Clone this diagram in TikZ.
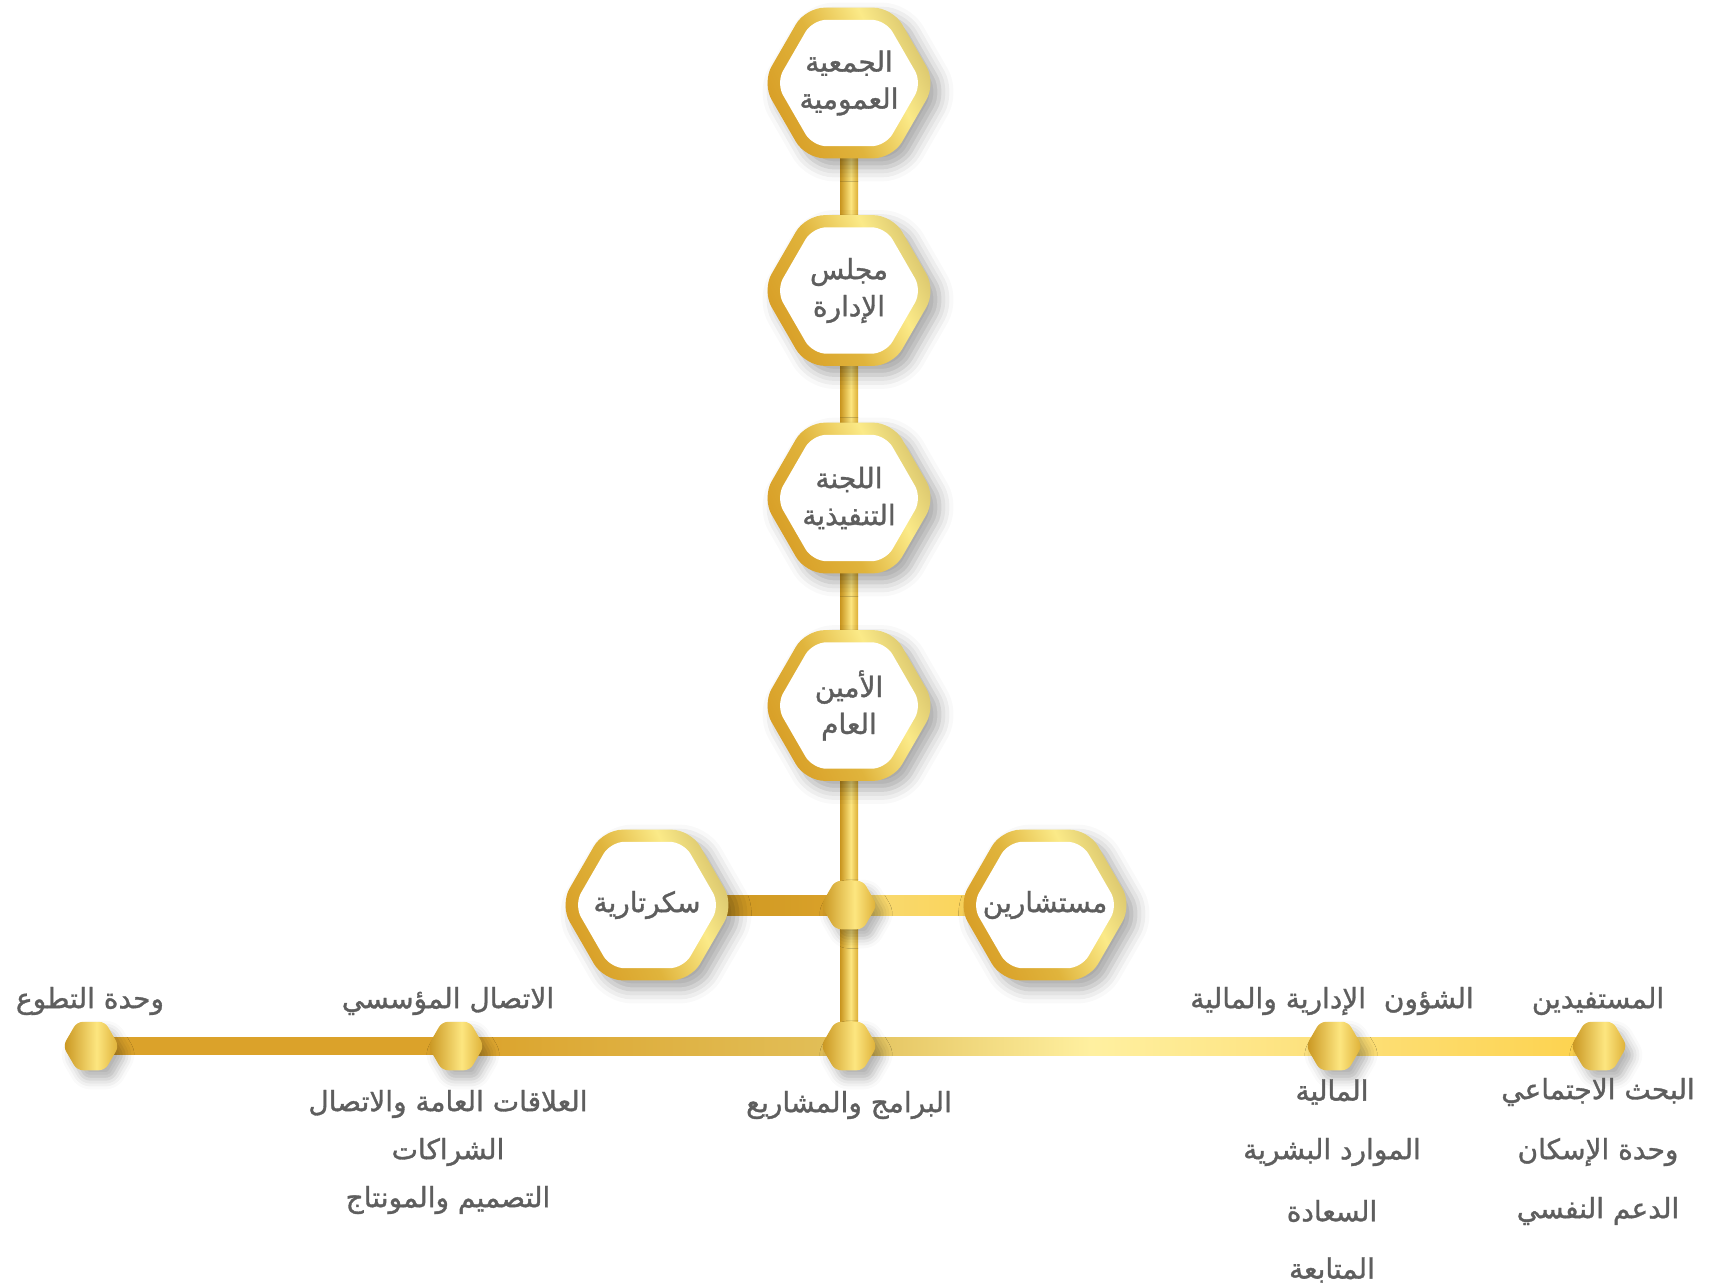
\documentclass[tikz,border=0pt]{standalone}
\usepackage{fontspec}
\newfontfamily\arabicfont[Script=Arabic,FakeBold=1.2]{DejaVu Sans}
\TeXXeTstate=1
\usetikzlibrary{shapes.geometric,shadows.blur,calc}
\definecolor{ringA}{HTML}{D89E26}
\definecolor{ringB}{HTML}{E0B43C}
\definecolor{ringC}{HTML}{FBEA88}
\definecolor{ringD}{HTML}{D8C46C}
\definecolor{stickA}{HTML}{C8941E}
\definecolor{stickB}{HTML}{FDE680}
\definecolor{stickC}{HTML}{DDAE34}
\definecolor{barA}{HTML}{DBA22A}
\definecolor{barB}{HTML}{E2C05A}
\definecolor{barC}{HTML}{FFF0A0}
\definecolor{barD}{HTML}{FDE07A}
\definecolor{barE}{HTML}{FDD24C}
\definecolor{txtgray}{HTML}{5E5E5E}
\pgfdeclarehorizontalshading{goldring}{100bp}{color(0bp)=(ringA); color(25bp)=(ringA); color(45bp)=(ringB); color(62bp)=(ringC); color(75bp)=(ringD); color(100bp)=(ringD)}
\pgfdeclarehorizontalshading{goldstick}{100bp}{color(0bp)=(stickA); color(25bp)=(stickA); color(55bp)=(stickB); color(75bp)=(stickC); color(100bp)=(stickC)}
\pgfdeclarelayer{bg}
\pgfsetlayers{bg,main}
\newcommand\rtl[1]{\makebox[0pt]{\beginR#1\endR}}
\tikzset{
x=1pt, y=-1pt,
node distance=207.5pt,
hexbox/.style={regular polygon, regular polygon sides=6, minimum size=174pt, inner sep=0pt,
  rounded corners=19pt, shading=goldring, shading angle=25,
  blur shadow={shadow xshift=9pt, shadow yshift=-9pt, shadow blur radius=14pt, shadow opacity=35},
  path picture={\node[regular polygon, regular polygon sides=6, minimum size=146pt, fill=white,
    rounded corners=14pt] at (path picture bounding box.center) {};},
  text=txtgray, align=center, font=\arabicfont\fontsize{28}{37}\selectfont},
joint/.style={regular polygon, regular polygon sides=6, minimum size=56pt, inner sep=0pt,
  rounded corners=6pt, shading=goldstick,
  blur shadow={shadow xshift=7pt, shadow yshift=-9pt, shadow blur radius=10pt, shadow opacity=30}},
lbl/.style={text=txtgray, align=center, inner sep=0pt, font=\arabicfont\fontsize{28}{30}\selectfont},
vstick/.style={shading=goldstick},
}

\begin{document}
\begin{tikzpicture}
\useasboundingbox (0,0) rectangle (1709,1288);
\node[hexbox] (gen) at (849,83) {\rtl{الجمعية}\\\rtl{العمومية}};
\node[hexbox, below of=gen] (board) {\rtl{مجلس}\\\rtl{الإدارة}};
\node[hexbox, below of=board] (exec) {\rtl{اللجنة}\\\rtl{التنفيذية}};
\node[hexbox, below of=exec] (sg) {\rtl{الأمين}\\\rtl{العام}};
\node[hexbox] (sec) at (647,905) {\rtl{سكرتارية}};
\node[hexbox] (cons) at (1045,905) {\rtl{مستشارين}};
\node[joint] (junc) at (849,905) {};
\node[joint] (prog) at (849,1046) {};
\node[joint] (vol) at (91,1046) {};
\node[joint] (comm) at (456,1046) {};
\node[joint] (admin) at (1334,1046) {};
\node[joint] (benef) at (1599,1046) {};

\begin{pgfonlayer}{bg}
\foreach \a/\b in {gen/board,board/exec,exec/sg,sg/junc,junc/prog}
  \shade[vstick] ($(\a.center)+(-9,0)$) rectangle ($(\b.center)+(9,0)$);
\shade[left color=stickA, right color=barA] ($(sec.center)+(0,-10)$) rectangle ($(junc.center)+(0,10)$);
\shade[left color=barD!80!barB, right color=barE] ($(junc.center)+(0,-10)$) rectangle ($(cons.center)+(0,10)$);
\fill[barA] ($(vol.center)+(0,-9)$) rectangle ($(comm.center)+(0,9)$);
\shade[left color=barA, right color=barB] ($(comm.center)+(0,-9)$) rectangle ($(prog.center)+(0,9)$);
\shade[left color=barB, right color=barD, middle color=barC] ($(prog.center)+(0,-9)$) rectangle ($(admin.center)+(0,9)$);
\shade[left color=barD, right color=barE] ($(admin.center)+(0,-9)$) rectangle ($(benef.center)+(0,9)$);
\end{pgfonlayer}

\node[lbl] (tvol) at (90,1001) {\rtl{وحدة التطوع}};
\node[lbl] (tcomm) at (448,1001) {\rtl{الاتصال المؤسسي}};
\node[lbl] (tadmin) at (1332,1001) {\rtl{الشؤون~ الإدارية والمالية}};
\node[lbl] (tbenef) at (1598,1001) {\rtl{المستفيدين}};
\node[lbl] (tprog) at (849,1105) {\rtl{البرامج والمشاريع}};
\node[lbl] (c1) at (448,1104) {\rtl{العلاقات العامة والاتصال}};
\node[lbl] (c2) at (448,1152) {\rtl{الشراكات}};
\node[lbl] (c3) at (448,1200) {\rtl{التصميم والمونتاج}};
\node[lbl] (a1) at (1332,1092) {\rtl{المالية}};
\node[lbl] (a2) at (1332,1152) {\rtl{الموارد البشرية}};
\node[lbl] (a3) at (1332,1211) {\rtl{السعادة}};
\node[lbl] (a4) at (1332,1270) {\rtl{المتابعة}};
\node[lbl] (b1) at (1598,1092) {\rtl{البحث الاجتماعي}};
\node[lbl] (b2) at (1598,1152) {\rtl{وحدة الإسكان}};
\node[lbl] (b3) at (1598,1211) {\rtl{الدعم النفسي}};
\end{tikzpicture}
\end{document}
